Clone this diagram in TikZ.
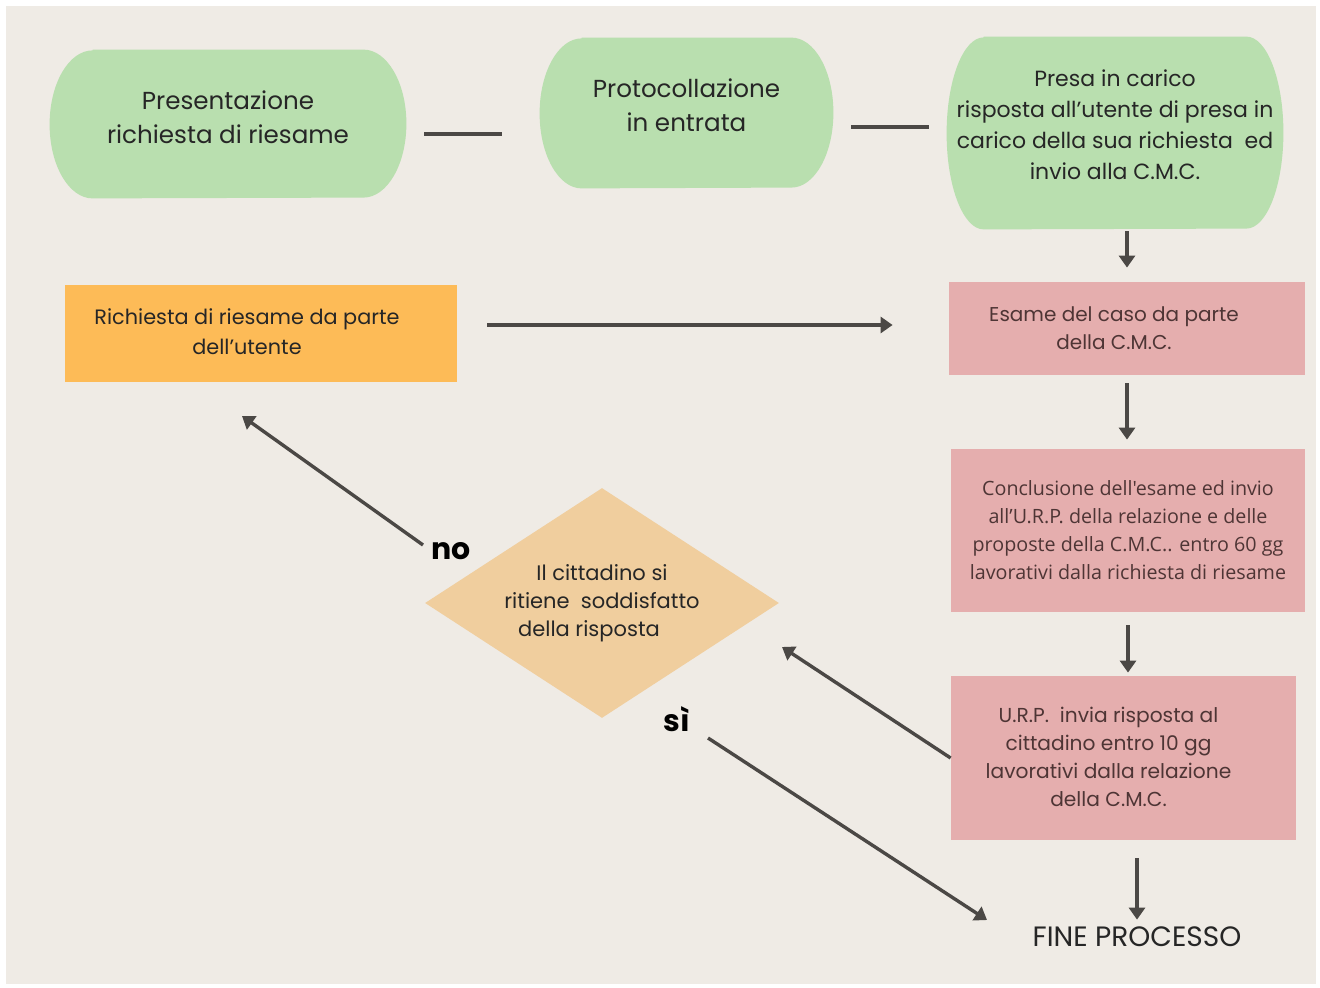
\documentclass[tikz,border=0pt]{standalone}
\usepackage{fontspec}
\setmainfont{Poppins}
\newfontfamily\opensans{Open Sans}
\usetikzlibrary{shapes.geometric,arrows.meta,backgrounds}

\definecolor{bgbeige}{HTML}{EFEBE5}
\definecolor{greenfill}{HTML}{B9DFAF}
\definecolor{orangefill}{HTML}{FDBB57}
\definecolor{pinkfill}{HTML}{E5AEAE}
\definecolor{peachfill}{HTML}{F0CE9E}
\definecolor{linegrey}{HTML}{4B4845}
\definecolor{textdark}{HTML}{262626}
\definecolor{pinktext}{HTML}{4E3535}

% fondo verde con lati ellittici dietro un nodo
\newcommand{\formafase}[3]{%
  \fill[greenfill] ([xshift=#2]#1.north west) -- ([xshift=-#2]#1.north east)
    arc[start angle=90, end angle=-90, x radius=#2, y radius=#3]
    -- ([xshift=#2]#1.south west)
    arc[start angle=270, end angle=90, x radius=#2, y radius=#3] -- cycle;}

\tikzset{
  fase/.style={rectangle, inner sep=0pt},
  testofase/.style={text=textdark, align=center, inner sep=0pt, font=\fontsize{12.3}{17}\selectfont},
  casella/.style={rectangle, fill=pinkfill, text=pinktext, align=center, inner sep=0pt,
    font=\fontsize{10}{14}\selectfont},
  testocasella/.style={text=pinktext, align=center, inner sep=0pt, font=\fontsize{10}{14}\selectfont},
  tratto/.style={draw=linegrey, line width=1.7pt},
  freccia/.style={tratto, -{Triangle[length=6pt,width=8pt]}},
  esito/.style={font=\fontsize{15}{15}\selectfont\bfseries, text=black, inner sep=1pt},
}

\begin{document}
\begin{tikzpicture}[x=0.5pt, y=-0.5pt]
  % sfondo
  \begin{scope}[on background layer]
    \fill[white] (0,0) rectangle (1320,988);
    \fill[bgbeige] (6,6) rectangle (1316,984);
  \end{scope}

  % Fasi iniziali
  \node[fase, minimum width=178pt, minimum height=74pt,
    label={[testofase, yshift=3.5pt]center:{Presentazione\\richiesta di riesame}}] (pres) at (228,124) {};
  \node[fase, minimum width=146.5pt, minimum height=75pt,
    label={[testofase, yshift=3.75pt]center:{Protocollazione\\in entrata}}] (prot) at (686.5,113) {};
  \node[fase, minimum width=168pt, minimum height=96pt,
    label={[testofase, yshift=4pt, font=\fontsize{11}{15.5}\selectfont]center:{Presa in carico\\risposta all'utente di presa in\\carico della sua richiesta\ \ ed\\invio alla C.M.C.}}] (presa) at (1115,133) {};
  \begin{scope}[on background layer]
    \formafase{pres}{21.5pt}{37pt}
    \formafase{prot}{21pt}{37.5pt}
    \formafase{presa}{18.5pt}{48pt}
  \end{scope}

  % Caselle
  \node[casella, fill=orangefill, minimum width=196pt, minimum height=48.5pt,
    label={[testocasella, text=textdark, xshift=-7pt, yshift=1pt, font=\fontsize{10.4}{15}\selectfont]center:{Richiesta di riesame da parte\\dell'utente}}] (rich) at (261,333.5) {};
  \node[casella, minimum width=178pt, minimum height=46.5pt,
    label={[testocasella, xshift=-6.5pt]center:{Esame del caso da parte\\della C.M.C.}}] (esame) at (1127,328.5) {};
  \node[casella, minimum width=177pt, minimum height=81.5pt, font=\opensans\fontsize{9.85}{14}\selectfont] (concl) at (1128,530.5)
    {Conclusione dell'esame ed invio\\all’U.R.P. della relazione e delle\\proposte della C.M.C.. entro 60 gg\\lavorativi dalla richiesta di riesame};
  \node[casella, minimum width=172.5pt, minimum height=82pt,
    label={[testocasella, xshift=-7.5pt, yshift=0.5pt, font=\fontsize{10.1}{14}\selectfont]center:{U.R.P.\ \ invia risposta al\\cittadino entro 10 gg\\lavorativi dalla relazione\\della C.M.C.}}] (urp) at (1123.5,758) {};

  % Decisione
  \node[diamond, fill=peachfill, text=textdark, align=center, inner sep=0pt, shape aspect=1.54,
    minimum width=177pt, minimum height=115pt, font=\fontsize{10.5}{14}\selectfont] (dec) at (602,603)
    {\rule{0pt}{5pt}Il cittadino si\\ritiene\ \ soddisfatto\\della risposta\rule{13pt}{0pt}};

  \node[text=textdark, font=\fontsize{14}{14}\selectfont, inner sep=0pt] (fine) at (1137,937) {FINE PROCESSO};
  \node[esito] (no) at (451,551) {no};
  \node[esito] (si) at (677,719) {sì};

  % estremi liberi
  \coordinate (noFine) at (242,416);
  \coordinate (noInizio) at (423,545);
  \coordinate (siInizio) at (708,738);
  \coordinate (siFine) at (987,920);
  \coordinate (decIn) at (782,647);

  % Collegamenti
  \draw[tratto, shorten <=9pt, shorten >=19pt] ([yshift=-5pt]pres.east) -- ([yshift=-10.5pt]prot.west);
  \draw[tratto, shorten <=9pt, shorten >=9pt] ([yshift=-7pt]prot.east) -- ([yshift=3pt]presa.west);
  \draw[freccia, shorten <=1pt, shorten >=7pt] (esame.north |- presa.south) -- (esame.north);
  \draw[freccia, shorten <=15pt, shorten >=28pt] ([yshift=4.25pt]rich.east) -- ([yshift=1.75pt]esame.west);
  \draw[freccia, shorten <=4pt, shorten >=4.5pt] (esame.south) -- (esame.south |- concl.north);
  \draw[freccia, shorten <=6.5pt, shorten >=1.5pt] (concl.south) -- (concl.south |- urp.north);
  \draw[freccia, shorten <=9pt, shorten >=3.5pt] (fine.north |- urp.south) -- (fine.north);
  \draw[freccia] (urp.west) -- (decIn);
  \draw[freccia] (noInizio) -- (noFine);
  \draw[freccia] (siInizio) -- (siFine);
\end{tikzpicture}
\end{document}
